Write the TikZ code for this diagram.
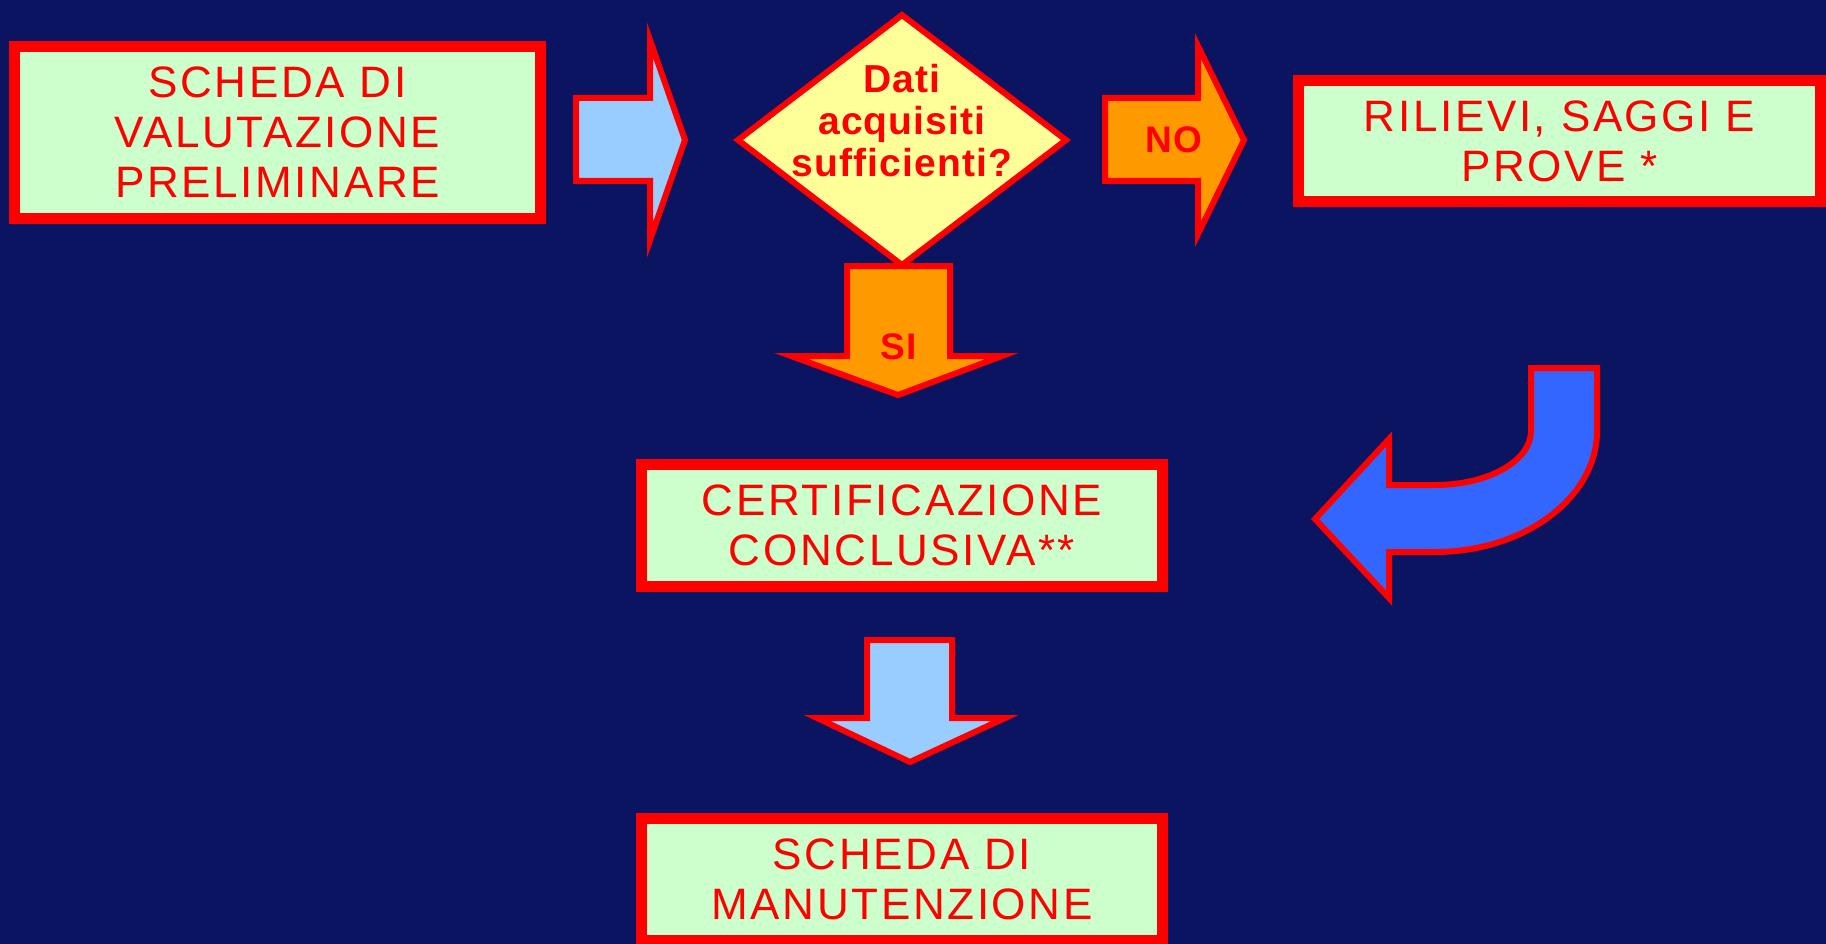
\documentclass[tikz,border=0pt]{standalone}
\usepackage{fontspec}
\setmainfont{Liberation Sans}
\newfontfamily\boxfont[LetterSpace=6]{Liberation Sans}
\newfontfamily\domfont[LetterSpace=3]{Liberation Sans}
\definecolor{sfondo}{HTML}{0B1460}
\definecolor{rosso}{HTML}{FF0000}
\definecolor{verde}{HTML}{CCFFCC}
\definecolor{celeste}{HTML}{99CCFF}
\definecolor{arancio}{HTML}{FF9900}
\definecolor{giallo}{HTML}{FFFF99}
\definecolor{blu}{HTML}{3366FF}
\begin{document}
\begin{tikzpicture}
	[	x=1pt,y=-1pt,
	box/.style={rectangle,draw=rosso,fill=verde,line width=11pt,text=rosso,align=center,inner sep=0pt,font=\boxfont\fontsize{44}{50}\selectfont},
	freccia/.style={draw=rosso,line width=6pt,line join=miter,miter limit=10},
	plain/.style={draw=none,fill=none,text=rosso,align=center,inner sep=0pt,font=\domfont\bfseries\fontsize{39}{42}\selectfont}
	]
	\fill[sfondo] (0,0) rectangle (1826,944);
	\useasboundingbox (0,0) rectangle (1826,944);

	\node[box,minimum width=526pt,minimum height=172pt] (valutazione) at (277.5,132.5) {SCHEDA DI\\VALUTAZIONE\\PRELIMINARE};
	\node[box,minimum width=522pt,minimum height=121pt] (rilievi) at (1559.5,141) {RILIEVI, SAGGI E\\PROVE *};
	\node[box,minimum width=521pt,minimum height=122pt] (certificazione) at (902,525.5) {CERTIFICAZIONE\\CONCLUSIVA**};
	\node[box,minimum width=521pt,minimum height=122pt] (manutenzione) at (902,879.5) {SCHEDA DI\\MANUTENZIONE};

	% domanda
	\draw[freccia,fill=giallo] (902,15) -- (1066,140) -- (902,265) -- (738,140) -- cycle;
	\node[plain] (dati) at (902,121) {Dati\\acquisiti\\sufficienti?};

	% frecce
	\draw[freccia,fill=celeste] (576,98) -- (650,98) -- (650,40) -- (685,140) -- (650,240) -- (650,181) -- (576,181) -- cycle;
	\draw[freccia,fill=arancio] (1105,98) -- (1198,98) -- (1198,46) -- (1244,140) -- (1198,234) -- (1198,181) -- (1105,181) -- cycle;
	\node[plain,font=\domfont\bfseries\fontsize{37}{42}\selectfont] (no) at (1174,140) {NO};
	\draw[freccia,fill=arancio] (847,266) -- (950,266) -- (950,356) -- (1002,356) -- (898,395) -- (791,356) -- (847,356) -- cycle;
	\node[plain,font=\domfont\bfseries\fontsize{37}{42}\selectfont] (si) at (899,347) {SI};
	\draw[freccia,fill=celeste] (867,640) -- (952,640) -- (952,718) -- (1005,718) -- (910,762) -- (817,718) -- (867,718) -- cycle;

	% ritorno
	\draw[freccia,fill=blu] (1531,368) -- (1531,431) .. controls (1531,461) and (1488,485) .. (1435,485) -- (1389,485) -- (1389,439) -- (1315,519) -- (1389,598) -- (1389,552) -- (1435,552) .. controls (1524,552) and (1597,498) .. (1597,431) -- (1597,368) -- cycle;
\end{tikzpicture}
\end{document}
